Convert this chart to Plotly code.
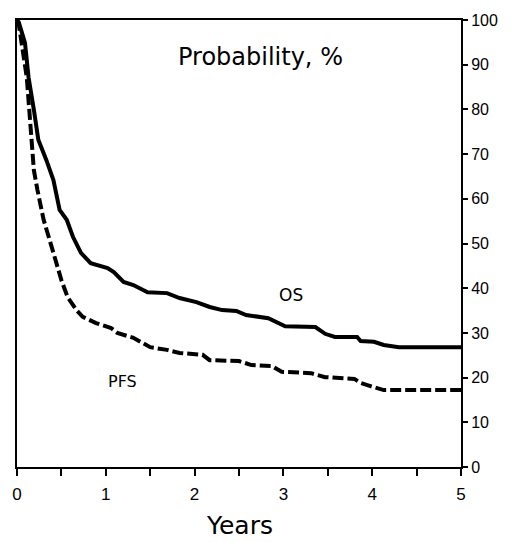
import plotly.graph_objects as go

os_years = [0, 0.02, 0.09, 0.13, 0.19, 0.24, 0.33, 0.41, 0.48, 0.56, 0.63, 0.72, 0.83, 1.02, 1.09, 1.20, 1.31, 1.47, 1.69, 1.83, 2.02, 2.17, 2.31, 2.47, 2.58, 2.83, 3.02, 3.36, 3.47, 3.58, 3.83, 3.87, 4.02, 4.13, 4.30, 5.0]
os_pct = [100, 99.5, 94.9, 87.2, 79.9, 73.2, 68.7, 64.2, 57.5, 55.3, 51.5, 47.9, 45.6, 44.5, 43.6, 41.4, 40.7, 39.1, 38.9, 37.8, 36.9, 35.8, 35.1, 34.9, 34.0, 33.3, 31.5, 31.3, 29.8, 29.1, 29.1, 28.2, 28.0, 27.3, 26.8, 26.8]

pfs_years = [0, 0.02, 0.11, 0.14, 0.17, 0.19, 0.23, 0.30, 0.41, 0.50, 0.57, 0.67, 0.74, 0.89, 1.06, 1.13, 1.31, 1.50, 1.69, 1.83, 2.09, 2.17, 2.50, 2.64, 2.87, 2.98, 3.31, 3.47, 3.80, 3.87, 3.98, 4.13, 5.0]
pfs_pct = [100, 99.0, 87.2, 79.9, 73.2, 66.4, 62.0, 55.3, 47.9, 41.8, 38.0, 35.1, 33.6, 32.2, 31.1, 30.0, 28.9, 26.8, 26.2, 25.5, 25.1, 23.9, 23.7, 22.8, 22.6, 21.3, 21.0, 20.1, 19.7, 18.8, 18.1, 17.2, 17.2]

x_ticks = [0, 1, 2, 3, 4, 5]
y_ticks = [0, 10, 20, 30, 40, 50, 60, 70, 80, 90, 100]

fig = go.Figure()
fig.add_trace(go.Scatter(x=os_years, y=os_pct, mode="lines",
                         line=dict(color="black", width=4), showlegend=False))
fig.add_trace(go.Scatter(x=pfs_years, y=pfs_pct, mode="lines",
                         line=dict(color="black", width=4, dash="11px,4px"), showlegend=False))

fig.update_layout(
    width=510, height=542,
    margin=dict(l=15, r=45, t=20, b=75),
    plot_bgcolor="white", paper_bgcolor="white",
    showlegend=False,
    xaxis=dict(range=[0, 5], tickvals=x_ticks, ticktext=[str(v) for v in x_ticks],
               showgrid=False, zeroline=False, showline=True, linecolor="black", linewidth=2,
               mirror=True, ticks="outside", ticklen=7, tickwidth=2, tickcolor="black",
               ticklabelstandoff=4,
               minor=dict(dtick=0.5, tick0=0, ticks="outside", ticklen=7, tickwidth=2, tickcolor="black"),
               tickfont=dict(family="Liberation Sans, Arial", size=17, color="black")),
    yaxis=dict(range=[0, 100], side="right", tickvals=y_ticks,
               showgrid=False, zeroline=False, showline=True, linecolor="black", linewidth=2,
               mirror=True, ticks="outside", ticklen=5, tickwidth=1.5, tickcolor="black",
               tickfont=dict(family="Liberation Sans, Arial", size=16, color="black")),
    annotations=[
        dict(x=2.74, y=91.7, xref="x", yref="y", text="Probability, %", showarrow=False,
             font=dict(family="DejaVu Sans", size=24, color="black")),
        dict(x=3.08, y=38.5, xref="x", yref="y", text="OS", showarrow=False,
             font=dict(family="DejaVu Sans", size=17, color="black")),
        dict(x=1.19, y=19.2, xref="x", yref="y", text="PFS", showarrow=False,
             font=dict(family="DejaVu Sans", size=16, color="black")),
        dict(x=2.5, y=0, xref="x", yref="paper", yanchor="middle", yshift=-58, text="Years",
             showarrow=False, font=dict(family="DejaVu Sans", size=25, color="black")),
    ],
)

fig.write_html("out.html")
